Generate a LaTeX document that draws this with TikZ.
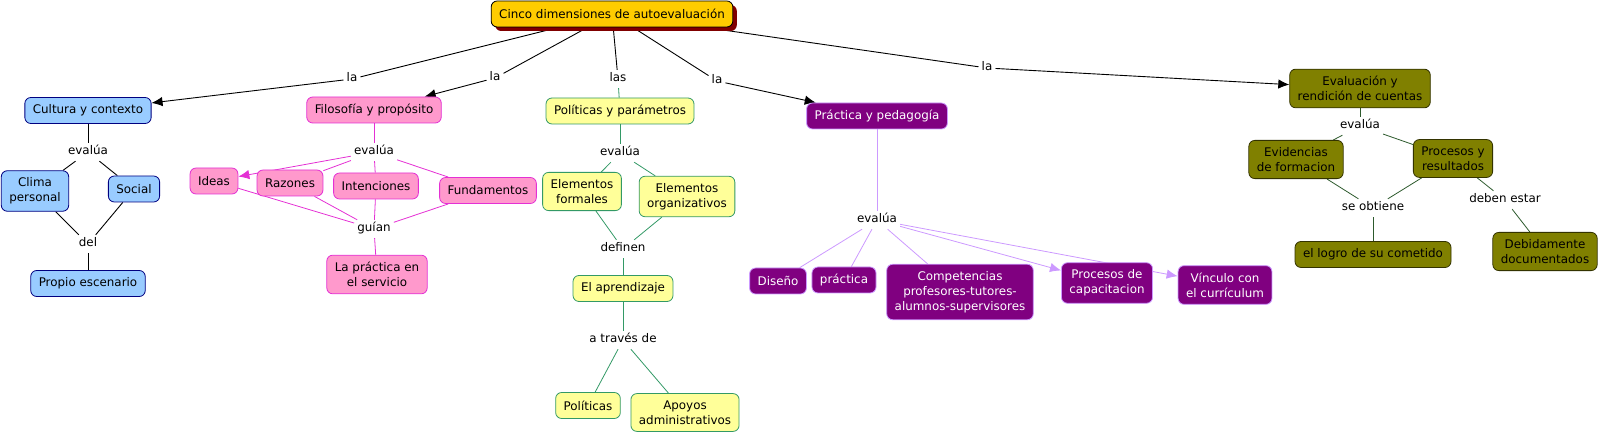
\documentclass[tikz,border=0pt]{standalone}
\usepackage{fontspec}
\setmainfont{DejaVu Sans}
\usepackage{tikz}
\usetikzlibrary{arrows.meta,positioning,shadows,backgrounds}
\definecolor{cmgold}{RGB}{255,204,0}
\definecolor{cmmaroon}{RGB}{128,0,0}
\definecolor{cmblue}{RGB}{153,204,255}
\definecolor{cmnavy}{RGB}{0,0,128}
\definecolor{cmpink}{RGB}{255,153,204}
\definecolor{cmmagenta}{RGB}{228,48,212}
\definecolor{cmcream}{RGB}{255,255,153}
\definecolor{cmteal}{RGB}{51,153,102}
\definecolor{cmpurple}{RGB}{128,0,128}
\definecolor{cmlilac}{RGB}{204,153,255}
\definecolor{cmolive}{RGB}{128,128,0}
\definecolor{cmdarkolive}{RGB}{51,51,0}
\definecolor{cmmoss}{RGB}{45,90,45}

\begin{document}
\begin{tikzpicture}[>={Latex[length=11pt,width=9.5pt]},x=1pt,y=-1pt,on grid,
    font=\fontsize{11.9pt}{15pt}\selectfont,every node/.style={align=center},
    box/.style={draw,rounded corners=6pt,line width=0.8pt,inner xsep=8pt,inner ysep=7pt,minimum height=26pt},
    topbox/.style={box,draw=black,fill=cmgold,drop shadow={shadow xshift=4pt,shadow yshift=-4pt,fill=cmmaroon,opacity=1}},
    bluebox/.style={box,draw=cmnavy,fill=cmblue},
    pinkbox/.style={box,draw=cmmagenta,fill=cmpink},
    creambox/.style={box,draw=cmteal,fill=cmcream},
    purplebox/.style={box,draw=cmlilac,fill=cmpurple,text=white},
    olivebox/.style={box,draw=cmdarkolive,fill=cmolive},
    lbl/.style={inner sep=3pt,text height=9pt,text depth=3pt},
    blackln/.style={line width=0.9pt,draw=black},
    pinkln/.style={line width=0.8pt,draw=cmmagenta},
    tealln/.style={line width=0.8pt,draw=cmteal},
    lilacln/.style={line width=0.8pt,draw=cmlilac},
    oliveln/.style={line width=0.8pt,draw=cmmoss}]
    \useasboundingbox (0,0) rectangle (1599,435);
    \node[topbox] (cinco) at (612,14) {Cinco dimensiones de autoevaluación};
    \node[lbl] (la1) at (352,79) {la};
    \node[lbl] (la2) at (495,78) {la};
    \node[lbl] (las) at (618,79) {las};
    \node[lbl] (la3) at (717,81) {la};
    \node[lbl] (la4) at (987,68) {la};

    \node[bluebox] (cultura) at (88,110.5) {Cultura y contexto};
    \node[lbl,below=41.5pt of cultura] (ev1) {evalúa};
    \node[bluebox,below left=39pt and 53pt of ev1] (clima) {Clima\\personal};
    \node[bluebox,below right=37pt and 46pt of ev1] (social) {Social};
    \node[lbl,below=92pt of ev1] (del) {del};
    \node[bluebox,below=39.5pt of del] (propio) {Propio escenario};

    \node[pinkbox] (filosofia) at (374,110) {Filosofía y propósito};
    \node[lbl,below=42pt of filosofia] (ev2) {evalúa};
    \node[pinkbox,below left=29pt and 160pt of ev2] (ideas) {Ideas};
    \node[pinkbox,below left=31pt and 84pt of ev2] (razones) {Razones};
    \node[pinkbox,below right=34pt and 2pt of ev2] (intenciones) {Intenciones};
    \node[pinkbox,below right=38.5pt and 114pt of ev2] (fundamentos) {Fundamentos};
    \node[lbl,below=77pt of ev2] (guian) {guían};
    \node[pinkbox,below right=45.5pt and 3pt of guian] (servicio) {La práctica en\\el servicio};

    \node[creambox] (parametros) at (620,111) {Políticas y parámetros};
    \node[lbl,below=42pt of parametros] (ev3) {evalúa};
    \node[creambox,below left=38.5pt and 38pt of ev3] (formales) {Elementos\\formales};
    \node[creambox,below right=43.5pt and 67pt of ev3] (organizativos) {Elementos\\organizativos};
    \node[lbl,below right=96pt and 3pt of ev3] (definen) {definen};
    \node[creambox,below=39.5pt of definen] (aprendizaje) {El aprendizaje};
    \node[lbl,below=51.5pt of aprendizaje] (atraves) {a través de};
    \node[creambox,below left=65.5pt and 35pt of atraves] (politicas) {Políticas};
    \node[creambox,below right=72.5pt and 62pt of atraves] (apoyos) {Apoyos\\administrativos};

    \node[purplebox] (pedagogia) at (877,116) {Práctica y pedagogía};
    \node[lbl,below=104pt of pedagogia] (ev4) {evalúa};
    \node[purplebox,below left=61pt and 99pt of ev4] (diseno) {Diseño};
    \node[purplebox,below left=60pt and 33pt of ev4] (practica) {práctica};
    \node[purplebox,below right=72pt and 83pt of ev4] (competencias) {Competencias\\profesores-tutores-\\alumnos-supervisores};
    \node[purplebox,below right=63pt and 230pt of ev4] (capacitacion) {Procesos de\\capacitacion};
    \node[purplebox,below right=65pt and 348pt of ev4] (vinculo) {Vínculo con\\el currículum};

    \node[olivebox] (evaluacion) at (1360,88.5) {Evaluación y\\rendición de cuentas};
    \node[lbl,below=37.5pt of evaluacion] (ev5) {evalúa};
    \node[olivebox,below left=33.5pt and 64pt of ev5] (evidencias) {Evidencias\\de formacion};
    \node[olivebox,below right=32.5pt and 93pt of ev5] (resultados) {Procesos y\\resultados};
    \node[lbl,below right=82pt and 13pt of ev5] (seobtiene) {se obtiene};
    \node[olivebox,below=46.5pt of seobtiene] (logro) {el logro de su cometido};
    \node[lbl,below right=41.5pt and 52pt of resultados] (debenestar) {deben estar};
    \node[olivebox,below right=51.5pt and 40pt of debenestar] (documentados) {Debidamente\\documentados};

    \begin{scope}[on background layer]
      \draw[blackln] (cinco) -- (la1);
      \draw[blackln,->] (la1) -- (cultura);
      \draw[blackln] (cinco) -- (la2);
      \draw[blackln,->] (la2) -- (filosofia);
      \draw[blackln] (cinco) -- (las);
      \draw[tealln] (las) -- (parametros);
      \draw[blackln] (cinco) -- (la3);
      \draw[blackln,->] (la3) -- (pedagogia);
      \draw[blackln] (cinco) -- (la4);
      \draw[blackln,->] (la4) -- (evaluacion);

      \draw[blackln] (cultura) -- (ev1);
      \draw[blackln] (ev1) -- (clima);
      \draw[blackln] (ev1) -- (social);
      \draw[blackln] (clima) -- (del);
      \draw[blackln] (social) -- (del);
      \draw[blackln] (del) -- (propio);

      \draw[pinkln] (filosofia) -- (ev2);
      \draw[pinkln,->] (ev2) -- (ideas);
      \draw[pinkln] (ev2) -- (razones);
      \draw[pinkln] (ev2) -- (intenciones);
      \draw[pinkln] (ev2) -- (fundamentos);
      \draw[pinkln] (ideas) -- (guian);
      \draw[pinkln] (razones) -- (guian);
      \draw[pinkln] (intenciones) -- (guian);
      \draw[pinkln] (fundamentos) -- (guian);
      \draw[pinkln] (guian) -- (servicio);

      \draw[tealln] (parametros) -- (ev3);
      \draw[tealln] (ev3) -- (formales);
      \draw[tealln] (ev3) -- (organizativos);
      \draw[tealln] (formales) -- (definen);
      \draw[tealln] (organizativos) -- (definen);
      \draw[tealln] (definen) -- (aprendizaje);
      \draw[tealln] (aprendizaje) -- (atraves);
      \draw[tealln] (atraves) -- (politicas);
      \draw[tealln] (atraves) -- (apoyos);

      \draw[lilacln] (pedagogia) -- (ev4);
      \draw[lilacln] (ev4) -- (diseno);
      \draw[lilacln] (ev4) -- (practica);
      \draw[lilacln] (ev4) -- (competencias);
      \draw[lilacln,->] (ev4) -- (capacitacion);
      \draw[lilacln,->] (ev4) -- (vinculo);

      \draw[oliveln] (evaluacion) -- (ev5);
      \draw[oliveln] (ev5) -- (evidencias);
      \draw[oliveln] (ev5) -- (resultados);
      \draw[oliveln] (evidencias) -- (seobtiene);
      \draw[oliveln] (resultados) -- (seobtiene);
      \draw[oliveln] (seobtiene) -- (logro);
      \draw[oliveln] (resultados) -- (debenestar);
      \draw[oliveln] (debenestar) -- (documentados);
    \end{scope}
  \end{tikzpicture}
\end{document}
